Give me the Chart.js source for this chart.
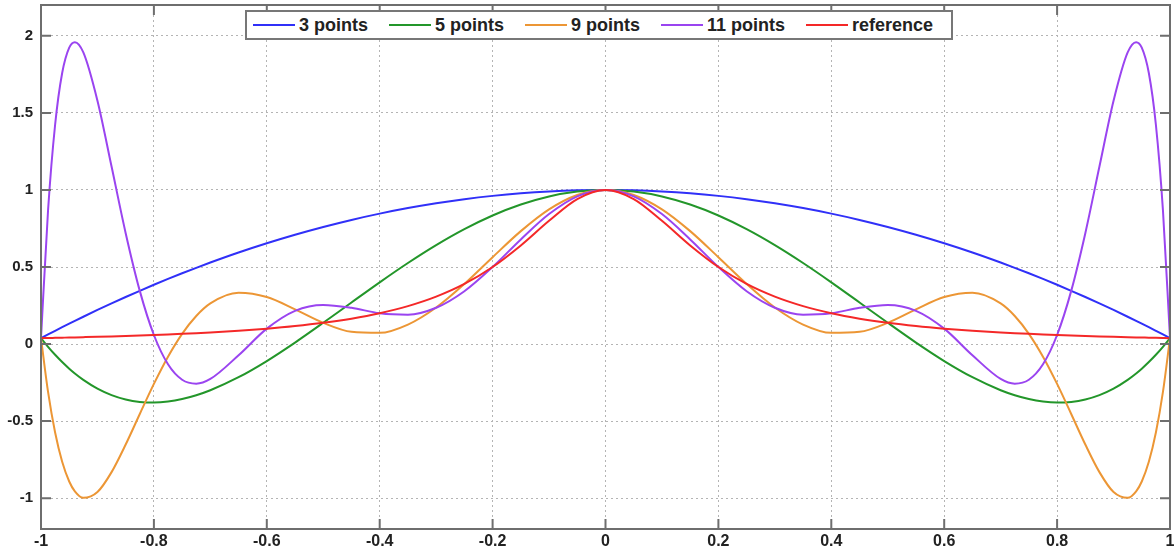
<!DOCTYPE html>
<html>
<head>
<meta charset="utf-8">
<script src="https://cdn.jsdelivr.net/npm/chart.js@4.4.1/dist/chart.umd.min.js"></script>
<style>
  body { margin: 0; background: #fff; }
  #wrap { position: relative; width: 1175px; height: 552px; }
  #legend {
    position: absolute; left: 245px; top: 10px; height: 26px;
    border: 2px solid #777; background: #fff;
    display: flex; align-items: center; padding: 0 18px 0 6px;
    font: bold 18px "Liberation Sans", Arial, sans-serif; color: #222;
  }
  #legend .item { display: flex; align-items: center; margin-right: 21px; }
  #legend .item:last-child { margin-right: 0; }
  #legend .swatch { width: 42px; height: 2px; margin-right: 4px; }
</style>
</head>
<body>
<div id="wrap">
  <canvas id="runge"></canvas>
  <div id="legend"></div>
</div>
<script>
const xValues = [-1, -0.9875, -0.975, -0.9625, -0.95, -0.94, -0.925, -0.9, -0.875, -0.85, -0.825, -0.8, -0.775, -0.75, -0.725, -0.7,
  -0.65, -0.6, -0.55, -0.5, -0.45, -0.4, -0.35, -0.3, -0.25, -0.2, -0.15, -0.1, -0.05, 0,
  0.05, 0.1, 0.15, 0.2, 0.25, 0.3, 0.35, 0.4, 0.45, 0.5, 0.55, 0.6, 0.65,
  0.7, 0.725, 0.75, 0.775, 0.8, 0.825, 0.85, 0.875, 0.9, 0.925, 0.94, 0.95, 0.9625, 0.975, 0.9875, 1];

const points3 = [0.0385, 0.0624, 0.0859, 0.1092, 0.1322, 0.1504, 0.1773, 0.2212, 0.2638, 0.3053, 0.3456, 0.3846, 0.4225, 0.4591, 0.4946, 0.5288,
  0.5938, 0.6538, 0.7091, 0.7596, 0.8053, 0.8462, 0.8822, 0.9135, 0.9399, 0.9615, 0.9784, 0.9904, 0.9976, 1,
  0.9976, 0.9904, 0.9784, 0.9615, 0.9399, 0.9135, 0.8822, 0.8462, 0.8053, 0.7596, 0.7091, 0.6538, 0.5938,
  0.5288, 0.4946, 0.4591, 0.4225, 0.3846, 0.3456, 0.3053, 0.2638, 0.2212, 0.1773, 0.1504, 0.1322, 0.1092, 0.0859, 0.0624, 0.0385];

const points5 = [0.0385, -0.0180, -0.0697, -0.1168, -0.1596, -0.1906, -0.2323, -0.2891, -0.3312, -0.3595, -0.3752, -0.3793, -0.3729, -0.3568, -0.3321, -0.2997,
  -0.2152, -0.1101, 0.0096, 0.1379, 0.2698, 0.4005, 0.5258, 0.6419, 0.7456, 0.8342, 0.9054, 0.9576, 0.9893, 1,
  0.9893, 0.9576, 0.9054, 0.8342, 0.7456, 0.6419, 0.5258, 0.4005, 0.2698, 0.1379, 0.0096, -0.1101, -0.2152,
  -0.2997, -0.3321, -0.3568, -0.3729, -0.3793, -0.3752, -0.3595, -0.3312, -0.2891, -0.2323, -0.1906, -0.1596, -0.1168, -0.0697, -0.0180, 0.0385];

const points9 = [0.0385, -0.3105, -0.5740, -0.7640, -0.8917, -0.9555, -0.9980, -0.9601, -0.8310, -0.6519, -0.4537, -0.2587, -0.0822, 0.0664, 0.1821, 0.2638,
  0.3327, 0.3049, 0.2251, 0.1379, 0.0794, 0.0726, 0.1266, 0.2374, 0.3902, 0.5636, 0.7328, 0.8740, 0.9674, 1,
  0.9674, 0.8740, 0.7328, 0.5636, 0.3902, 0.2374, 0.1266, 0.0726, 0.0794, 0.1379, 0.2251, 0.3049, 0.3327,
  0.2638, 0.1821, 0.0664, -0.0822, -0.2587, -0.4537, -0.6519, -0.8310, -0.9601, -0.9980, -0.9555, -0.8917, -0.7640, -0.5740, -0.3105, 0.0385];

const points11 = [0.0385, 0.8681, 1.4231, 1.7591, 1.9236, 1.9590, 1.8924, 1.5787, 1.1517, 0.7195, 0.3450, 0.0588, -0.1312, -0.2315, -0.2569, -0.2262,
  -0.0726, 0.1, 0.2156, 0.2538, 0.2350, 0.2, 0.1906, 0.2353, 0.3426, 0.5, 0.6790, 0.8434, 0.9586, 1,
  0.9586, 0.8434, 0.6790, 0.5, 0.3426, 0.2353, 0.1906, 0.2, 0.2350, 0.2538, 0.2156, 0.1, -0.0726,
  -0.2262, -0.2569, -0.2315, -0.1312, 0.0588, 0.3450, 0.7195, 1.1517, 1.5787, 1.8924, 1.9590, 1.9236, 1.7591, 1.4231, 0.8681, 0.0385];

const reference = [0.0385, 0.0394, 0.0404, 0.0414, 0.0424, 0.0433, 0.0447, 0.0471, 0.0497, 0.0525, 0.0555, 0.0588, 0.0624, 0.0664, 0.0707, 0.0755,
  0.0865, 0.1, 0.1168, 0.1379, 0.1649, 0.2, 0.2462, 0.3077, 0.3902, 0.5, 0.64, 0.8, 0.9412, 1,
  0.9412, 0.8, 0.64, 0.5, 0.3902, 0.3077, 0.2462, 0.2, 0.1649, 0.1379, 0.1168, 0.1, 0.0865,
  0.0755, 0.0707, 0.0664, 0.0624, 0.0588, 0.0555, 0.0525, 0.0497, 0.0471, 0.0447, 0.0433, 0.0424, 0.0414, 0.0404, 0.0394, 0.0385];

const seriesLabels = ['3 points', '5 points', '9 points', '11 points', 'reference'];
const seriesValues = [points3, points5, points9, points11, reference];
const seriesColors = ['#3030f8', '#23962a', '#ec9635', '#9a44f0', '#f42828'];
const drawOrder = [4, 3, 2, 1, 0];

const FONT = '"Liberation Sans", Arial, sans-serif';

const datasets = seriesLabels.map((label, i) => ({
  label: label,
  data: xValues.map((x, j) => ({ x: x, y: seriesValues[i][j] })),
  borderColor: seriesColors[i],
  backgroundColor: seriesColors[i],
  borderWidth: 2,
  pointRadius: 0,
  showLine: true,
  cubicInterpolationMode: 'monotone',
  order: drawOrder[i]
}));

// box around the plot with inward ticks on all four sides
const framePlugin = {
  id: 'frame',
  afterDraw(chart) {
    const ctx = chart.ctx;
    const a = chart.chartArea;
    const xs = chart.scales.x, ys = chart.scales.y;
    ctx.save();
    ctx.strokeStyle = '#6e6e6e';
    ctx.lineWidth = 2;
    ctx.strokeRect(a.left, a.top, a.right - a.left, a.bottom - a.top);
    ctx.beginPath();
    xs.ticks.forEach(t => {
      const px = xs.getPixelForValue(t.value);
      ctx.moveTo(px, a.bottom); ctx.lineTo(px, a.bottom - 10);
      ctx.moveTo(px, a.top); ctx.lineTo(px, a.top + 10);
    });
    ys.ticks.forEach(t => {
      const py = ys.getPixelForValue(t.value);
      ctx.moveTo(a.left, py); ctx.lineTo(a.left + 10, py);
      ctx.moveTo(a.right, py); ctx.lineTo(a.right - 10, py);
    });
    ctx.stroke();
    ctx.restore();
  }
};

const shortLabel = v => String(+v.toFixed(1));

new Chart(document.getElementById('runge'), {
  type: 'scatter',
  data: { datasets: datasets },
  options: {
    responsive: true,
    maintainAspectRatio: false,
    animation: false,
    layout: { padding: { top: 5, right: 5, left: 0, bottom: 0 } },
    plugins: { legend: { display: false }, tooltip: { enabled: false } },
    scales: {
      x: {
        type: 'linear', min: -1, max: 1,
        afterFit(scale) { scale.height = 23; scale.paddingLeft = 0; scale.paddingRight = 0; },
        ticks: { stepSize: 0.2, padding: 3, color: '#222', callback: shortLabel,
                 font: { family: FONT, size: 16, weight: 'bold' } },
        grid: { color: '#b4b4b4', lineWidth: 1, drawTicks: false },
        border: { display: false, dash: [2, 3] }
      },
      y: {
        type: 'linear', min: -1.2, max: 2.2,
        afterFit(scale) { scale.width = 41; scale.paddingTop = 0; scale.paddingBottom = 0; },
        ticks: { stepSize: 0.5, includeBounds: false, padding: 8, color: '#222', callback: shortLabel,
                 font: { family: FONT, size: 15, weight: 'bold' } },
        grid: { color: '#b4b4b4', lineWidth: 1, drawTicks: false },
        border: { display: false, dash: [2, 3] }
      }
    }
  },
  plugins: [framePlugin]
});

// legend box drawn inside the plot, as in the original figure
const legend = document.getElementById('legend');
seriesLabels.forEach((label, i) => {
  const item = document.createElement('div');
  item.className = 'item';
  const sw = document.createElement('span');
  sw.className = 'swatch';
  sw.style.background = seriesColors[i];
  const txt = document.createElement('span');
  txt.textContent = label;
  item.appendChild(sw);
  item.appendChild(txt);
  legend.appendChild(item);
});
</script>
</body>
</html>
